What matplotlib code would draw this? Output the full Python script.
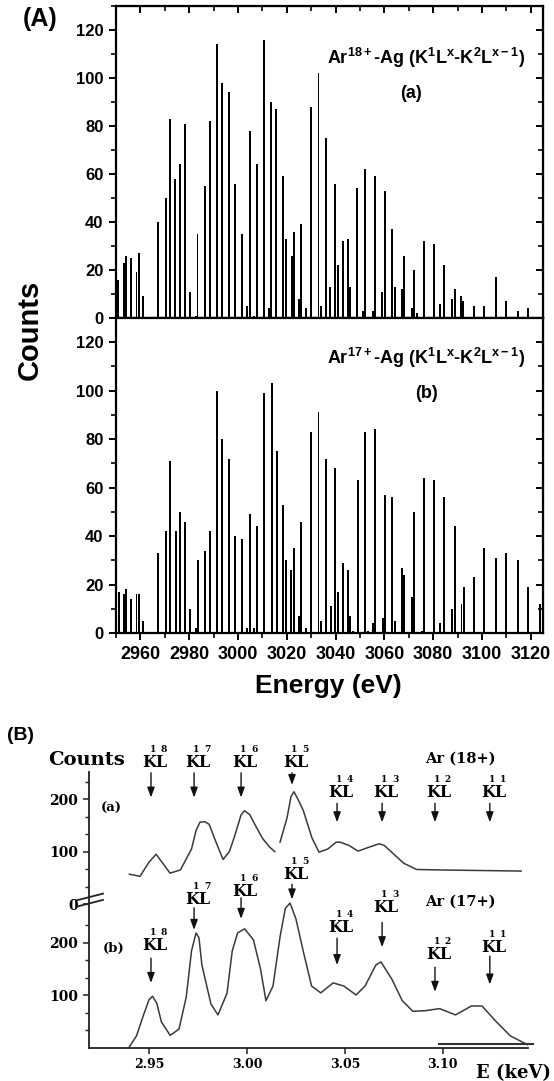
import numpy as np
import matplotlib
matplotlib.use("Agg")
import matplotlib.pyplot as plt
from matplotlib.ticker import MultipleLocator, FixedLocator

plt.rcParams['font.family'] = ['Liberation Sans', 'DejaVu Sans']
plt.rcParams['font.weight'] = 'bold'
plt.rcParams['mathtext.fontset'] = 'custom'
plt.rcParams['mathtext.rm'] = 'Liberation Sans:bold'
plt.rcParams['mathtext.it'] = 'Liberation Sans:bold'
plt.rcParams['mathtext.bf'] = 'Liberation Sans:bold'

# ---------------- data : panel (A)(a)  Ar18+ ----------------
a_energy = [2951.0, 2953.2, 2954.1, 2956.2, 2958.4, 2959.3, 2961.1, 2967.4, 2970.3, 2972.3,
            2974.2, 2976.3, 2978.4, 2980.3, 2982.6, 2983.4, 2986.4, 2988.6, 2991.5, 2993.6,
            2996.4, 2998.6, 3001.6, 3003.7, 3004.8, 3006.7, 3007.7, 3010.7, 3012.7, 3013.7,
            3015.6, 3018.6, 3019.6, 3022.2, 3022.9, 3024.9, 3025.9, 3027.9, 3030.0, 3033.0,
            3034.0, 3036.0, 3037.8, 3039.9, 3041.0, 3043.2, 3045.1, 3046.1, 3048.9, 3051.1,
            3052.2, 3055.2, 3056.2, 3059.1, 3060.1, 3063.2, 3064.2, 3067.3, 3068.1, 3071.4,
            3072.2, 3073.2, 3076.4, 3080.4, 3082.7, 3084.5, 3087.8, 3088.8, 3091.3, 3092.3,
            3096.6, 3100.8, 3105.8, 3109.9, 3114.8, 3118.9]
a_counts = [16, 23, 26, 25, 19, 27, 9, 40, 50, 83,
            58, 64, 81, 11, 1, 35, 55, 82, 114, 98,
            94, 56, 35, 5, 78, 1, 64, 116, 4, 90,
            87, 59, 33, 26, 36, 8, 39, 4, 88, 102,
            5, 75, 13, 56, 22, 32, 33, 13, 54, 3,
            62, 3, 59, 11, 53, 37, 13, 12, 26, 4,
            20, 2, 32, 31, 6, 22, 8, 12, 9, 7,
            5, 5, 17, 7, 3, 4]

# ---------------- data : panel (A)(b)  Ar17+ ----------------
b_energy = [2951.2, 2953.2, 2954.2, 2956.2, 2958.4, 2959.5, 2961.1, 2967.3, 2970.4, 2972.3,
            2974.4, 2976.3, 2978.4, 2980.3, 2982.6, 2983.6, 2986.4, 2988.6, 2991.5, 2993.6,
            2996.4, 2998.6, 3001.6, 3003.7, 3004.8, 3006.7, 3007.8, 3010.7, 3013.8, 3015.8,
            3018.6, 3019.6, 3021.9, 3022.9, 3024.9, 3025.9, 3027.9, 3030.0, 3033.0, 3034.0,
            3036.0, 3038.0, 3039.9, 3041.0, 3043.2, 3045.1, 3046.1, 3047.1, 3049.2, 3052.2,
            3053.2, 3055.2, 3056.3, 3059.3, 3060.1, 3063.3, 3064.2, 3067.3, 3068.2, 3071.2,
            3072.2, 3075.3, 3076.4, 3080.4, 3082.7, 3084.5, 3087.8, 3088.8, 3091.6, 3092.5,
            3096.6, 3100.8, 3105.8, 3109.9, 3114.8, 3118.9, 3123.8]
b_counts = [17, 16, 18, 14, 16, 16, 5, 33, 42, 71,
            42, 50, 46, 10, 2, 30, 34, 42, 100, 80,
            72, 40, 39, 2, 49, 2, 44, 99, 103, 75,
            53, 30, 26, 35, 7, 46, 2, 83, 91, 5,
            72, 11, 68, 17, 29, 26, 7, 1, 63, 83,
            1, 4, 84, 6, 57, 56, 5, 27, 24, 15,
            50, 1, 64, 63, 4, 56, 10, 44, 12, 19,
            23, 35, 31, 33, 30, 19, 12]

# ---------------- data : panel (B) measured spectra ----------------
spec18_E = [2.940, 2.9454, 2.950, 2.9536, 2.957, 2.9607, 2.966, 2.9717, 2.974, 2.976,
            2.9785, 2.9807, 2.984, 2.9878, 2.991, 2.9934, 2.997, 2.9988, 3.0015, 3.004,
            3.008, 3.0115, 3.0142, np.nan, 3.0169, 3.0205, 3.0225, 3.024, 3.026, 3.0287,
            3.0332, 3.0368, 3.0413, 3.0455, 3.0476, 3.052, 3.0567, 3.062, 3.0675, 3.070,
            3.073, 3.080, 3.0866, 3.100, 3.120, 3.140]
spec18_counts = [57, 53, 80, 95, 78, 59, 65, 105, 140, 156,
                 157, 152, 120, 85, 100, 126, 170, 178, 170, 152,
                 125, 109, 100, np.nan, 118, 165, 205, 214, 200, 179,
                 126, 99, 105, 118, 118, 112, 101, 108, 115, 112,
                 102, 78, 66, 65, 64, 63]
spec17_E = [2.940, 2.9436, 2.9472, 2.950, 2.9518, 2.954, 2.9563, 2.9608, 2.9653, 2.969,
            2.9717, 2.974, 2.9755, 2.977, 2.9816, 2.9852, 2.9898, 2.9925, 2.9952, 2.9988,
            3.0033, 3.0069, 3.0097, 3.0133, 3.0169, 3.0196, 3.022, 3.025, 3.0287, 3.033,
            3.0377, 3.044, 3.0495, 3.0557, 3.0603, 3.0658, 3.0684, 3.074, 3.0793, 3.0847,
            3.091, 3.0983, 3.1065, 3.1146, 3.120, 3.1273, 3.1345, 3.1434]
spec17_counts = [2.5, 23, 63, 92, 98.5, 85, 50, 24, 36, 97,
                 185, 219, 210, 158, 84, 63, 104, 185, 219, 227,
                 206, 151, 90, 118, 212, 266, 276, 246, 185, 118,
                 105, 124, 118, 101, 118, 158, 164, 131, 90, 70,
                 71, 75, 63, 80, 80, 50, 23, 6]
kl_energy = [2.951, 2.973, 2.997, 3.023, 3.046, 3.069, 3.096, 3.124]
kl_index = ['8', '7', '6', '5', '4', '3', '2', '1']

fig = plt.figure(figsize=(5.54, 10.81), dpi=100)

# ================= panel (A) =================
axa = fig.add_axes([0.2094, 0.70583, 0.7707, 0.28862])
axb = fig.add_axes([0.2094, 0.41443, 0.7707, 0.2914], sharex=axa)

for ax, E, C in ((axa, a_energy, a_counts), (axb, b_energy, b_counts)):
    ax.bar(E, C, width=0.8, color='black', linewidth=0)
    ax.set_xlim(2950, 3125)
    ax.set_ylim(0, 130)
    ax.xaxis.set_major_locator(MultipleLocator(20))
    ax.xaxis.set_minor_locator(MultipleLocator(10))
    ax.yaxis.set_major_locator(MultipleLocator(20))
    ax.yaxis.set_minor_locator(MultipleLocator(10))
    ax.tick_params(which='major', direction='out', length=5, width=1.4, labelsize=12, pad=4)
    ax.tick_params(which='minor', direction='out', length=3.5, width=1.2)
    ax.tick_params(axis='x', labelsize=13, pad=4)
    for s in ax.spines.values():
        s.set_linewidth(1.6)
    for lab in ax.get_xticklabels() + ax.get_yticklabels():
        lab.set_fontweight('bold')
    sy = ax.secondary_yaxis('right')
    sy.yaxis.set_major_locator(MultipleLocator(20))
    sy.yaxis.set_minor_locator(MultipleLocator(10))
    sy.tick_params(which='major', direction='in', length=5, width=1.4, labelright=False)
    sy.tick_params(which='minor', direction='in', length=3.5, width=1.2)

sx = axa.secondary_xaxis('top')
sx.xaxis.set_major_locator(MultipleLocator(20))
sx.xaxis.set_minor_locator(MultipleLocator(10))
sx.tick_params(which='major', direction='in', length=5, width=1.4, labeltop=False)
sx.tick_params(which='minor', direction='in', length=3.5, width=1.2)

plt.setp(axa.get_xticklabels(), visible=False)
axb.tick_params(axis='x', top=False)

axa.text(0.958, 0.833, r'Ar$^{18+}$-Ag (K$^{1}$L$^{x}$-K$^{2}$L$^{x-1}$)', transform=axa.transAxes,
         ha='right', va='center', fontsize=13, fontweight='bold')
axa.text(0.691, 0.72, '(a)', transform=axa.transAxes, ha='center', va='center',
         fontsize=13, fontweight='bold')
axb.text(0.958, 0.872, r'Ar$^{17+}$-Ag (K$^{1}$L$^{x}$-K$^{2}$L$^{x-1}$)', transform=axb.transAxes,
         ha='right', va='center', fontsize=13, fontweight='bold')
axb.text(0.728, 0.76, '(b)', transform=axb.transAxes, ha='center', va='center',
         fontsize=13, fontweight='bold')

fig.text(30 / 554, 1 - 330 / 1081, 'Counts', rotation=90, ha='center', va='center',
         fontsize=21, fontweight='bold')
fig.text(328 / 554, 1 - 686 / 1081, 'Energy (eV)', ha='center', va='center',
         fontsize=19, fontweight='bold')
fig.text(40 / 554, 1 - 19 / 1081, '(A)', ha='center', va='center', fontsize=18, fontweight='bold')

# ================= panel (B) =================
serif = ['DejaVu Serif']
offset = 274
axB = fig.add_axes([0.1601, 0.03053, 0.793, 0.2550])
axB.set_xlim(2.9192, 3.1435)
axB.set_ylim(0, 525)
axB.spines['top'].set_visible(False)
axB.spines['right'].set_visible(False)
for s in ('left', 'bottom'):
    axB.spines[s].set_linewidth(1.3)
    axB.spines[s].set_color('#222222')

axB.plot(spec18_E, np.array(spec18_counts) + offset, color='#3a3a3a', lw=1.1)
axB.plot(spec17_E, spec17_counts, color='#3a3a3a', lw=1.1)
axB.plot([3.098, 3.146], [8, 8], color='#333333', lw=1.5, clip_on=False)

ytick_pos = [100, 200, offset, offset + 100, offset + 200]
axB.yaxis.set_major_locator(FixedLocator(ytick_pos))
axB.set_yticklabels(['100', '200', '0', '100', '200'], fontfamily=serif, fontweight='bold', fontsize=10)
minor_pos = [100 / 3, 200 / 3, 400 / 3, 500 / 3, 700 / 3,
             offset + 100 / 3, offset + 200 / 3, offset + 400 / 3, offset + 500 / 3,
             offset + 700 / 3, offset + 800 / 3 - 10]
axB.yaxis.set_minor_locator(FixedLocator(minor_pos))
axB.xaxis.set_major_locator(FixedLocator([2.95, 3.00, 3.05, 3.10]))
axB.set_xticklabels(['2.95', '3.00', '3.05', '3.10'], fontfamily=serif, fontweight='bold', fontsize=9)
axB.tick_params(which='major', direction='out', length=4.5, width=1.1, pad=3, color='#222222')
axB.tick_params(which='minor', direction='out', length=3, width=1.0, color='#222222')

for dy in (0, 12):
    axB.plot([2.9128, 2.9265], [269 + dy, 282 + dy], color='#222222', lw=1.3, clip_on=False)


def kl_label(E, n, y_lab, y0, y1):
    axB.annotate('', xy=(E, y1), xytext=(E, y0),
                 arrowprops=dict(arrowstyle='-|>,head_length=0.6,head_width=0.22', color='#111111',
                                 lw=1.0, mutation_scale=10, shrinkA=0, shrinkB=0),
                 annotation_clip=False)
    axB.annotate('KL', xy=(E, y_lab), xytext=(4, 0), textcoords='offset pixels', ha='center',
                 va='center', fontsize=11.5, fontfamily=serif, fontweight='bold', annotation_clip=False)
    axB.annotate('1', xy=(E, y_lab), xytext=(2, 13), textcoords='offset pixels', ha='center',
                 va='center', fontsize=6.5, fontfamily=serif, fontweight='bold', annotation_clip=False)
    axB.annotate(n, xy=(E, y_lab), xytext=(13, 13), textcoords='offset pixels', ha='center',
                 va='center', fontsize=6.5, fontfamily=serif, fontweight='bold', annotation_clip=False)


upper_layout = [(543, 524, 477), (543, 524, 477), (543, 524, 477), (543, 524, 501),
                (486, 466, 430), (486, 466, 430), (486, 466, 430), (486, 466, 430)]
lower_layout = [(195, 171, 124), (283, 267, 225), (299, 286, 246), (331, 312, 283),
                (229, 209, 158), (267, 239, 192), (178, 154, 107), (192, 175, 121)]
for E, n, lay in zip(kl_energy, kl_index, upper_layout):
    kl_label(E, n, *lay)
for E, n, lay in zip(kl_energy, kl_index, lower_layout):
    kl_label(E, n, *lay)

axB.text(2.9306, 457, '(a)', ha='center', va='center', fontsize=9.5, fontfamily=serif, fontweight='bold')
axB.text(2.9319, 189, '(b)', ha='center', va='center', fontsize=9.5, fontfamily=serif, fontweight='bold')
axB.text(3.1092, 551, 'Ar (18+)', ha='center', va='center', fontsize=10.5, fontfamily=serif,
         fontweight='bold', clip_on=False)
axB.text(3.1092, 278, 'Ar (17+)', ha='center', va='center', fontsize=10.5, fontfamily=serif,
         fontweight='bold')
axB.text(2.9179, 549, 'Counts', ha='center', va='center', fontsize=14, fontfamily=serif,
         fontweight='bold', clip_on=False)
axB.text(3.1362, -48, 'E (keV)', ha='center', va='center', fontsize=13, fontfamily=serif,
         fontweight='bold', clip_on=False)
fig.text(21 / 554, 1 - 735 / 1081, '(B)', ha='center', va='center', fontsize=14, fontweight='bold')

fig.savefig('out.png', dpi=100)
